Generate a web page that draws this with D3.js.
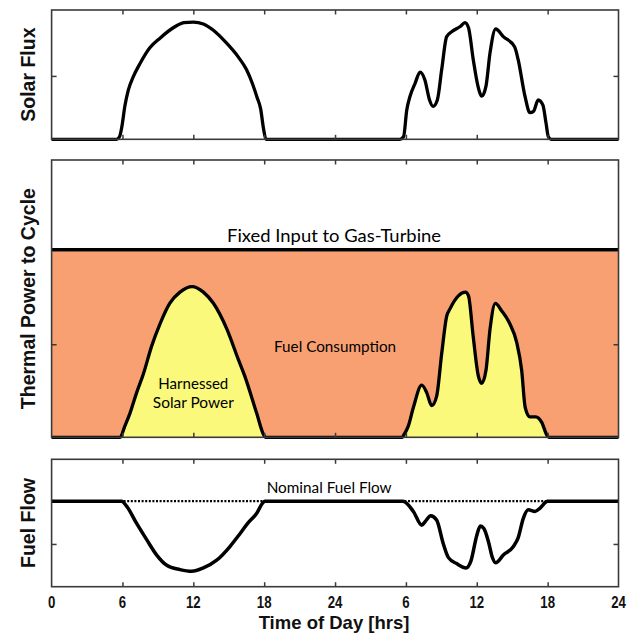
<!DOCTYPE html>
<html>
<head>
<meta charset="utf-8">
<script src="https://cdn.jsdelivr.net/npm/d3@7"></script>
<style>
  html, body { margin: 0; padding: 0; background: #fff; }
  svg { display: block; }
</style>
</head>
<body>
<svg id="chart" width="638" height="636"></svg>
<script>
// ---------- DATA ----------
const tickHours = [0, 6, 12, 18, 24, 30, 36, 42, 48];
const tickLabels = ["0", "6", "12", "18", "24", "6", "12", "18", "24"];

// Solar flux [hour, relative value]
const solarFlux = [
  [0,0],[5.5,0],[5.75,0.02],[5.95,0.10],[6.2,0.26],[6.5,0.39],[6.9,0.49],[7.5,0.60],[8.3,0.72],
  [9.2,0.80],[10.3,0.88],[11.2,0.92],[12,0.925],[12.85,0.91],[13.7,0.86],[14.7,0.77],[15.8,0.65],
  [16.5,0.55],[17,0.44],[17.4,0.33],[17.7,0.24],[17.95,0.08],[18.15,0],
  [29.5,0],[29.8,0.02],[30.07,0.23],[30.35,0.34],[30.77,0.44],[31.2,0.53],[31.6,0.47],[32.0,0.31],
  [32.3,0.26],[32.66,0.31],[33.03,0.55],[33.45,0.81],[33.9,0.85],[34.6,0.89],[35.0,0.92],[35.3,0.88],
  [35.7,0.63],[36.1,0.42],[36.42,0.34],[36.78,0.42],[37.12,0.68],[37.6,0.87],[38.25,0.81],[39.2,0.73],
  [39.5,0.63],[40.08,0.34],[40.5,0.21],[40.8,0.22],[41.2,0.31],[41.6,0.27],[41.86,0.13],[42.06,0.02],
  [42.3,0],[48,0]
];

// Harnessed solar power [hour, value]
const harnessedPower = [
  [0,0],[5.8,0],[6.2,0.06],[6.64,0.13],[7.2,0.24],[7.77,0.34],[8.47,0.49],[9.18,0.61],[10.0,0.72],
  [10.87,0.78],[11.9,0.81],[12.85,0.78],[13.7,0.72],[14.85,0.58],[15.8,0.42],[16.35,0.33],[17.36,0.13],
  [17.98,0.01],[18.1,0],
  [29.7,0],[29.8,0.01],[30.2,0.06],[30.63,0.16],[31.34,0.28],[31.76,0.24],[32.18,0.17],[32.6,0.22],
  [33.03,0.45],[33.45,0.65],[33.73,0.69],[34.44,0.76],[35.05,0.78],[35.3,0.76],[35.7,0.54],[36.13,0.33],
  [36.42,0.29],[36.78,0.36],[37.12,0.58],[37.58,0.72],[38.1,0.68],[38.8,0.61],[39.38,0.51],[39.8,0.36],
  [40.1,0.16],[40.5,0.11],[41.0,0.11],[41.5,0.08],[41.95,0.01],[42.1,0],[48,0]
];

// Fuel flow [hour, value]
const fuelFlow = [
  [0,1],[5.93,1],[6.36,0.94],[7.2,0.74],[8.05,0.55],[8.9,0.37],[9.75,0.25],[10.87,0.20],[11.86,0.18],
  [12.85,0.22],[13.98,0.31],[15.1,0.47],[15.95,0.62],[16.6,0.74],[17.37,0.86],[17.88,0.98],[18.05,1],
  [29.75,1],[30.63,0.88],[31.34,0.72],[31.62,0.76],[32.1,0.83],[32.6,0.78],[33.17,0.50],[33.6,0.34],
  [34.3,0.27],[35.1,0.22],[35.5,0.30],[36.0,0.60],[36.3,0.71],[36.6,0.68],[37.0,0.52],[37.3,0.35],
  [37.6,0.28],[38.25,0.37],[39.1,0.47],[39.5,0.57],[39.94,0.80],[40.36,0.90],[40.93,0.88],[41.36,0.92],
  [41.85,0.99],[42.0,1],[48,1]
];

const fixedInput = [[0,1],[48,1]];
const nominalFuel = [[0,1],[48,1]];

const panelLabels = ["Solar Flux", "Thermal Power to Cycle", "Fuel Flow"];
const annotations = {
  fixed: "Fixed Input to Gas-Turbine",
  fuel: "Fuel Consumption",
  harnessed: ["Harnessed", "Solar Power"],
  nominal: "Nominal Fuel Flow"
};
const xTitle = "Time of Day [hrs]";

// ---------- LAYOUT ----------
const svg = d3.select("#chart");
const x = d3.scaleLinear().domain([0, 48]).range([51.6, 618.5]);

const panels = [
  { y: d3.scaleLinear().domain([0, 1.02]).range([139.3, 10]), label: panelLabels[0] },
  { y: d3.scaleLinear().domain([0, 1.49]).range([437.3, 160]), label: panelLabels[1] },
  { y: d3.scaleLinear().domain([0, 1.49]).range([586.7, 459.3]), label: panelLabels[2] }
];

const ORANGE = "#f9a072";
const YELLOW = "#fbf97b";
const FRAME = "#3a3a3a";

const innerTicks = [6, 12, 18, 24, 30, 36, 42];

function drawFrame(p) {
  const [y0, y1] = p.y.range();
  const [x0, x1] = x.range();
  const g = svg.append("g");
  g.append("rect")
    .attr("x", x0).attr("y", y1)
    .attr("width", x1 - x0).attr("height", y0 - y1)
    .attr("fill", "none").attr("stroke", FRAME).attr("stroke-width", 1.6);
  const bottomAx = d3.axisBottom(x).tickValues(innerTicks).tickSize(-4.5).tickFormat("");
  const topAx = d3.axisTop(x).tickValues(innerTicks).tickSize(-4.5).tickFormat("");
  const leftAx = d3.axisLeft(p.y).tickValues([0.5]).tickSize(-5).tickFormat("");
  const rightAx = d3.axisRight(p.y).tickValues([0.5]).tickSize(-5).tickFormat("");
  [[bottomAx, `translate(0,${y0})`], [topAx, `translate(0,${y1})`],
   [leftAx, `translate(${x0},0)`], [rightAx, `translate(${x1},0)`]].forEach(([ax, t]) => {
    const a = g.append("g").attr("transform", t).call(ax);
    a.select(".domain").remove();
    a.selectAll(".tick line").attr("stroke", FRAME).attr("stroke-width", 1.5);
  });
  const cy = (y0 + y1) / 2;
  svg.append("text")
    .attr("transform", `translate(34.5,${cy}) rotate(-90)`)
    .attr("text-anchor", "middle")
    .attr("font-family", "'Liberation Sans', Arial, sans-serif")
    .attr("font-weight", "bold")
    .attr("font-size", 19.5)
    .attr("fill", "#111")
    .text(p.label);
}

const curve = d3.curveMonotoneX;

// ---------- TOP PANEL ----------
{
  const p = panels[0];
  const line = d3.line().x(d => x(d[0])).y(d => p.y(d[1])).curve(curve);
  svg.append("path").datum(solarFlux).attr("d", line)
    .attr("fill", "none").attr("stroke", "#000").attr("stroke-width", 3.3)
    .attr("stroke-linejoin", "round");
  drawFrame(p);
}

// ---------- MIDDLE PANEL ----------
{
  const p = panels[1];
  const area1 = d3.area().x(d => x(d[0])).y0(p.y(0)).y1(d => p.y(d[1]));
  svg.append("path").datum(fixedInput).attr("d", area1).attr("fill", ORANGE);
  const areaH = d3.area().x(d => x(d[0])).y0(p.y(0)).y1(d => p.y(d[1])).curve(curve);
  svg.append("path").datum(harnessedPower).attr("d", areaH).attr("fill", YELLOW);
  const lineH = d3.line().x(d => x(d[0])).y(d => p.y(d[1])).curve(curve);
  svg.append("path").datum(harnessedPower).attr("d", lineH)
    .attr("fill", "none").attr("stroke", "#000").attr("stroke-width", 3.3)
    .attr("stroke-linejoin", "round");
  const lineF = d3.line().x(d => x(d[0])).y(d => p.y(d[1]) - 1.5);
  svg.append("path").datum(fixedInput).attr("d", lineF)
    .attr("fill", "none").attr("stroke", "#000").attr("stroke-width", 3.6);
  drawFrame(p);

  const ann = svg.append("g").attr("font-family", "Lato, 'Open Sans', sans-serif").attr("fill", "#000")
    .attr("text-anchor", "middle");
  ann.append("text").attr("x", x(24) - 1).attr("y", 242).attr("font-size", 16.5)
    .attr("textLength", 214).attr("lengthAdjust", "spacingAndGlyphs")
    .text(annotations.fixed);
  ann.append("text").attr("x", x(24)).attr("y", 352).attr("font-size", 14.5)
    .attr("textLength", 122).attr("lengthAdjust", "spacingAndGlyphs")
    .text(annotations.fuel);
  ann.append("text").attr("x", x(12)).attr("y", 388.5).attr("font-size", 15)
    .attr("textLength", 70).attr("lengthAdjust", "spacingAndGlyphs")
    .text(annotations.harnessed[0]);
  ann.append("text").attr("x", x(12)).attr("y", 408).attr("font-size", 15)
    .attr("textLength", 81).attr("lengthAdjust", "spacingAndGlyphs")
    .text(annotations.harnessed[1]);
}

// ---------- BOTTOM PANEL ----------
{
  const p = panels[2];
  const lineN = d3.line().x(d => x(d[0])).y(d => p.y(d[1]));
  svg.append("path").datum(nominalFuel).attr("d", lineN)
    .attr("fill", "none").attr("stroke", "#000").attr("stroke-width", 2.2)
    .attr("stroke-dasharray", "2,1.6");
  const line = d3.line().x(d => x(d[0])).y(d => p.y(d[1])).curve(curve);
  svg.append("path").datum(fuelFlow).attr("d", line)
    .attr("fill", "none").attr("stroke", "#000").attr("stroke-width", 3.5)
    .attr("stroke-linejoin", "round");
  drawFrame(p);

  svg.append("text").attr("x", x(23.5)).attr("y", 493)
    .attr("text-anchor", "middle")
    .attr("font-family", "Lato, 'Open Sans', sans-serif").attr("font-size", 14.5)
    .attr("textLength", 125).attr("lengthAdjust", "spacingAndGlyphs")
    .text(annotations.nominal);

  const tl = svg.append("g")
    .attr("font-family", "'Liberation Sans', Arial, sans-serif")
    .attr("font-weight", "bold").attr("font-size", 16.5).attr("fill", "#111");
  tickHours.forEach((h, i) => {
    tl.append("text")
      .attr("transform", `translate(${x(h)},607.5) scale(0.8,1)`)
      .attr("text-anchor", "middle")
      .text(tickLabels[i]);
  });
  svg.append("text")
    .attr("x", x(24) - 1).attr("y", 628.5)
    .attr("text-anchor", "middle")
    .attr("font-family", "'Liberation Sans', Arial, sans-serif")
    .attr("font-weight", "bold").attr("font-size", 18.5).attr("fill", "#111")
    .text(xTitle);
}
</script>
</body>
</html>
